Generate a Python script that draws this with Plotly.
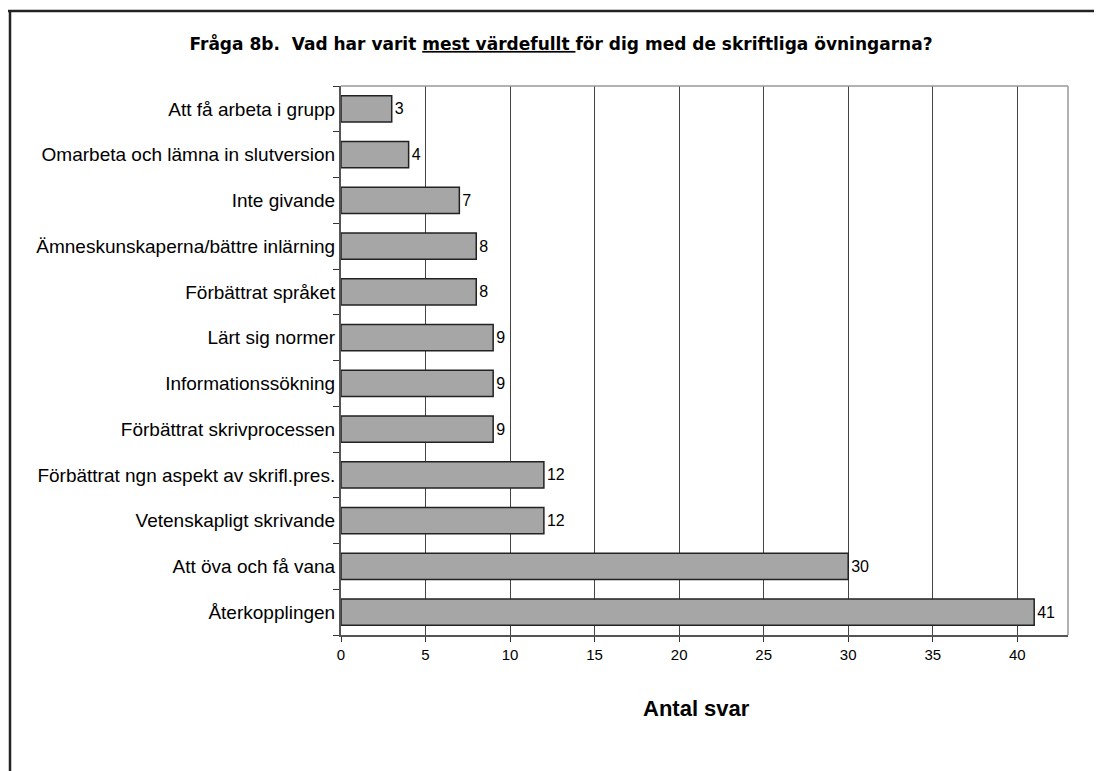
import plotly.graph_objects as go

categories = [
    "Återkopplingen",
    "Att öva och få vana",
    "Vetenskapligt skrivande",
    "Förbättrat ngn aspekt av skrifl.pres.",
    "Förbättrat skrivprocessen",
    "Informationssökning",
    "Lärt sig normer",
    "Förbättrat språket",
    "Ämneskunskaperna/bättre inlärning",
    "Inte givande",
    "Omarbeta och lämna in slutversion",
    "Att få arbeta i grupp",
]
values = [41, 30, 12, 12, 9, 9, 9, 8, 8, 7, 4, 3]
x_ticks = [0, 5, 10, 15, 20, 25, 30, 35, 40]

# page body margin offset (browser default)
O = 8
W, H = 1102 - O, 771 - O
L, R, T, B = 341 - O, 1068 - O, 86 - O, 635 - O

def px(x):
    return (x - O - L) / (R - L)

def py(y):
    return (B - (y - O)) / (B - T)

fig = go.Figure()
fig.add_trace(go.Bar(
    x=values, y=categories, orientation="h",
    marker=dict(color="#a6a6a6", line=dict(color="#222222", width=1.5)),
    width=0.57,
    text=[str(v) for v in values], textposition="outside",
    textfont=dict(family="Liberation Sans", size=16, color="#000"),
    cliponaxis=False,
))

fig.update_layout(
    width=W, height=H,
    margin=dict(l=L, r=W - R, t=T, b=H - B),
    paper_bgcolor="white", plot_bgcolor="white",
    showlegend=False,
    font=dict(family="Liberation Sans", color="#000"),
    title=dict(
        text="<b>Fråga 8b.  Vad har varit <u>mest värdefullt </u>för dig med de skriftliga övningarna?</b>",
        x=px(561), xanchor="center", xref="paper",
        y=1 - (44 - O) / H, yanchor="middle",
        font=dict(family="DejaVu Sans", size=17, color="#000"),
    ),
    xaxis=dict(
        range=[0, 43], tickvals=x_ticks, ticks="outside", ticklen=5,
        tickcolor="#333", tickfont=dict(size=15, color="#000"),
        showgrid=True, gridcolor="#444", gridwidth=1,
        showline=True, linecolor="#555", linewidth=2, zeroline=False,
    ),
    yaxis=dict(
        categoryorder="array", categoryarray=categories,
        ticks="outside", ticklen=6, tickcolor="#333", tickson="boundaries",
        tickfont=dict(size=19, color="#000"),
        showline=True, linecolor="#555", linewidth=2,
        showgrid=False,
    ),
)

shapes = [
    # plot area right and top border
    dict(type="line", xref="paper", yref="paper", x0=0, x1=1, y0=1, y1=1,
         line=dict(color="#999", width=1.5)),
    dict(type="line", xref="paper", yref="paper", x0=1, x1=1, y0=0, y1=1,
         line=dict(color="#999", width=1.5)),
    # outer frame top and left
    dict(type="line", xref="paper", yref="paper", x0=px(8), x1=px(1102), y0=py(11), y1=py(11),
         line=dict(color="#222", width=2.5)),
    dict(type="line", xref="paper", yref="paper", x0=px(10), x1=px(10), y0=py(11), y1=py(771),
         line=dict(color="#222", width=2.5)),
]
fig.update_layout(shapes=shapes)

fig.add_annotation(
    text="<b>Antal svar</b>", xref="paper", yref="paper",
    x=px(696), y=py(708), xanchor="center", yanchor="middle",
    showarrow=False, font=dict(family="Liberation Sans", size=22, color="#000"),
)

fig.write_html("out.html")
